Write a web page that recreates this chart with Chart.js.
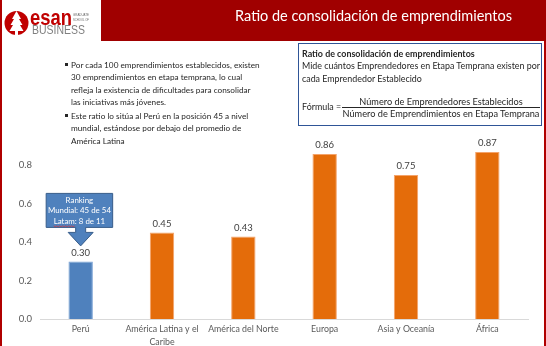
<!DOCTYPE html>
<html lang="es">
<head>
<meta charset="utf-8">
<script src="https://cdn.jsdelivr.net/npm/chart.js@4.4.1/dist/chart.umd.min.js"></script>
<style>
  html, body { margin: 0; padding: 0; }
  body { width: 546px; height: 346px; position: relative; overflow: hidden; background: #fff; font-family: Lato, 'Open Sans', sans-serif; }
  #grafico { position: absolute; left: 0; top: 0; }
  .borde { position: absolute; top: 0; height: 346px; width: 2px; background: #b00000; }
  #cabecera { position: absolute; left: 101px; top: 0; width: 445px; height: 41px; background: #a00000; }
  #titulo { position: absolute; right: 34px; top: 7px; color: #fff; font-size: 15px; line-height: 18px; white-space: nowrap; }
  #logo { position: absolute; left: 0; top: 0; }
  .vineta { position: absolute; left: 71px; font-size: 9px; line-height: 12.4px; color: #262626; white-space: nowrap; }
  .vineta::before { content: ''; position: absolute; left: -6.5px; top: 4.5px; width: 3px; height: 3px; background: #262626; }
  #definicion { position: absolute; left: 298px; top: 43px; width: 244px; height: 83px; border: 1.5px solid #2f5597; box-sizing: border-box; font-size: 9.6px; line-height: 12.2px; color: #262626; }
  #definicion .linea { position: absolute; left: 3px; white-space: nowrap; }
  #definicion .frac { position: absolute; left: 43px; width: 198px; text-align: center; white-space: nowrap; }
</style>
</head>
<body>
<canvas id="grafico" width="546" height="346"></canvas>

<div class="borde" style="left:0"></div>
<div class="borde" style="left:544px"></div>

<svg id="logo" width="100" height="41">
  <circle cx="16.5" cy="23" r="12" fill="#c00000"/>
  <path d="M16.5 11 L12 19 L14 19 L10.5 25 L13 25 L9.5 31 L15 31 L15 35 L18 35 L18 31 L23.5 31 L20 25 L22.5 25 L19 19 L21 19 Z" fill="#fff"/>
  <text x="30" y="25" font-family="Liberation Sans, Arial, sans-serif" font-weight="bold" font-size="22" fill="#c00000" textLength="42" lengthAdjust="spacingAndGlyphs">esan</text>
  <text x="73" y="15.5" font-family="Liberation Sans, Arial, sans-serif" font-size="3.8" fill="#666" textLength="16" lengthAdjust="spacingAndGlyphs">GRADUATE</text>
  <text x="73" y="20.5" font-family="Liberation Sans, Arial, sans-serif" font-size="3.8" fill="#666" textLength="16" lengthAdjust="spacingAndGlyphs">SCHOOL OF</text>
  <text x="32" y="34" font-family="Liberation Sans, Arial, sans-serif" font-size="12" fill="#7f7f7f" textLength="53" lengthAdjust="spacingAndGlyphs">BUSINESS</text>
</svg>

<div id="cabecera"><div id="titulo">Ratio de consolidación de emprendimientos</div></div>

<div class="vineta" id="v1" style="top:58.8px">Por cada 100 emprendimientos establecidos, existen<br>30 emprendimientos en etapa temprana, lo cual<br>refleja la existencia de dificultades para consolidar<br>las iniciativas más jóvenes.</div>
<div class="vineta" id="v2" style="top:109.8px">Este ratio lo sitúa al Perú en la posición 45 a nivel<br>mundial, estándose por debajo del promedio de<br>América Latina</div>

<div id="definicion">
  <div class="linea" id="d1" style="top:4px;font-weight:bold">Ratio de consolidación de emprendimientos</div>
  <div class="linea" id="d2" style="top:16px">Mide cuántos Emprendedores en Etapa Temprana existen por</div>
  <div class="linea" id="d3" style="top:28.5px">cada Emprendedor Establecido</div>
  <div class="linea" id="d4" style="top:57px">Fórmula =</div>
  <div class="frac" id="f1" style="top:51.5px">Número de Emprendedores Establecidos</div>
  <div class="frac" id="f2" style="top:63px;border-top:1px solid #262626;line-height:12px">Número de Emprendimientos en Etapa Temprana</div>
</div>

<script>
const categorias = ['Perú', ['América Latina y el', 'Caribe'], 'América del Norte', 'Europa', 'Asia y Oceanía', 'África'];
const ratios = [0.30, 0.45, 0.43, 0.86, 0.75, 0.87];
const ticksY = [0, 0.2, 0.4, 0.6, 0.8];
const ranking = ['Ranking', 'Mundial: 45 de 54', 'Latam: 8 de 11'];

// ajusta el tamaño de letra para que el texto ocupe el ancho del original
function ajustar(id, ancho, otros = []) {
  const el = document.getElementById(id);
  const span = document.createElement('span');
  span.style.whiteSpace = 'nowrap';
  span.innerHTML = el.innerHTML;
  el.innerHTML = '';
  el.appendChild(span);
  const base = parseFloat(getComputedStyle(el).fontSize);
  const tam = base * ancho / span.getBoundingClientRect().width;
  el.innerHTML = span.innerHTML;
  [id, ...otros].forEach(o => { document.getElementById(o).style.fontSize = tam + 'px'; });
}
ajustar('titulo', 277);
ajustar('v1', 189, ['v2']);
ajustar('d2', 238, ['d3', 'd4']);
ajustar('d1', 173);
ajustar('f2', 197, ['f1']);

const colores = ratios.map((v, i) => i === 0 ? '#4f81bd' : '#e46c0a');
const bordes = ratios.map((v, i) => i === 0 ? '#7ba3d6' : '#f4a36a');

// etiquetas de valor encima de cada barra
const etiquetas = {
  id: 'etiquetas',
  afterDatasetsDraw(chart) {
    const ctx = chart.ctx;
    ctx.save();
    ctx.font = '9.5px Lato';
    ctx.fillStyle = '#404040';
    ctx.textAlign = 'center';
    ctx.textBaseline = 'bottom';
    chart.getDatasetMeta(0).data.forEach((bar, i) => {
      ctx.fillText(ratios[i].toFixed(2), bar.x, bar.y - 4);
    });
    ctx.restore();
  }
};

// llamada con flecha sobre la barra de Perú
const llamada = {
  id: 'llamada',
  afterDatasetsDraw(chart) {
    const bar = chart.getDatasetMeta(0).data[0];
    const x = bar.x, y = bar.y;
    const izq = x - 34.5, der = x + 32, arriba = y - 68, abajo = y - 34;
    const ctx = chart.ctx;
    ctx.save();
    ctx.beginPath();
    ctx.moveTo(izq, arriba);
    ctx.lineTo(der, arriba);
    ctx.lineTo(der, abajo);
    ctx.lineTo(x + 5, abajo);
    ctx.lineTo(x + 5, y - 29);
    ctx.lineTo(x + 12.5, y - 29);
    ctx.lineTo(x, y - 15.5);
    ctx.lineTo(x - 12.5, y - 29);
    ctx.lineTo(x - 5, y - 29);
    ctx.lineTo(x - 5, abajo);
    ctx.lineTo(izq, abajo);
    ctx.closePath();
    ctx.fillStyle = '#4f81bd';
    ctx.fill();
    ctx.strokeStyle = '#385d8a';
    ctx.lineWidth = 1;
    ctx.stroke();
    ctx.font = '7.9px Lato';
    ctx.fillStyle = '#fff';
    ctx.textAlign = 'center';
    ctx.textBaseline = 'middle';
    const cx = (izq + der) / 2;
    ranking.forEach((t, i) => ctx.fillText(t, cx, y - 61 + i * 10.3));
    // subrayado ondulado rojo bajo "Latam"
    const w = ctx.measureText(ranking[2]).width;
    const x0 = cx - w / 2, x1 = x0 + ctx.measureText('Latam').width;
    ctx.beginPath();
    for (let px = x0, k = 0; px <= x1; px += 1.5, k++) {
      const py = y - 61 + 2 * 10.3 + 5 + (k % 2 ? 0.8 : -0.2);
      k === 0 ? ctx.moveTo(px, py) : ctx.lineTo(px, py);
    }
    ctx.strokeStyle = '#e03030';
    ctx.lineWidth = 0.7;
    ctx.stroke();
    ctx.restore();
  }
};

new Chart(document.getElementById('grafico'), {
  type: 'bar',
  data: {
    labels: categorias,
    datasets: [{
      data: ratios,
      backgroundColor: colores,
      borderColor: bordes,
      borderWidth: 1,
      barPercentage: 0.3,
      categoryPercentage: 1
    }]
  },
  options: {
    responsive: false,
    animation: false,
    layout: { padding: { top: 127, right: 18, left: 0, bottom: 0 } },
    plugins: { legend: { display: false }, tooltip: { enabled: false } },
    scales: {
      x: {
        grid: { display: false, drawTicks: false },
        border: { color: '#d9d9d9' },
        ticks: { color: '#595959', font: { family: 'Lato', size: 8.8, lineHeight: 1.45 }, padding: 4, maxRotation: 0, autoSkip: false },
        afterFit: s => { s.height = 27; }
      },
      y: {
        min: 0,
        max: 1,
        grid: { display: false, drawTicks: false },
        border: { display: false },
        ticks: {
          stepSize: 0.2,
          color: '#595959',
          font: { family: 'Lato', size: 9.5 },
          padding: 8,
          callback: v => ticksY.some(t => Math.abs(t - v) < 1e-6) ? v.toFixed(1) : ''
        },
        afterFit: s => { s.width = 40; }
      }
    }
  },
  plugins: [etiquetas, llamada]
});
</script>
</body>
</html>
